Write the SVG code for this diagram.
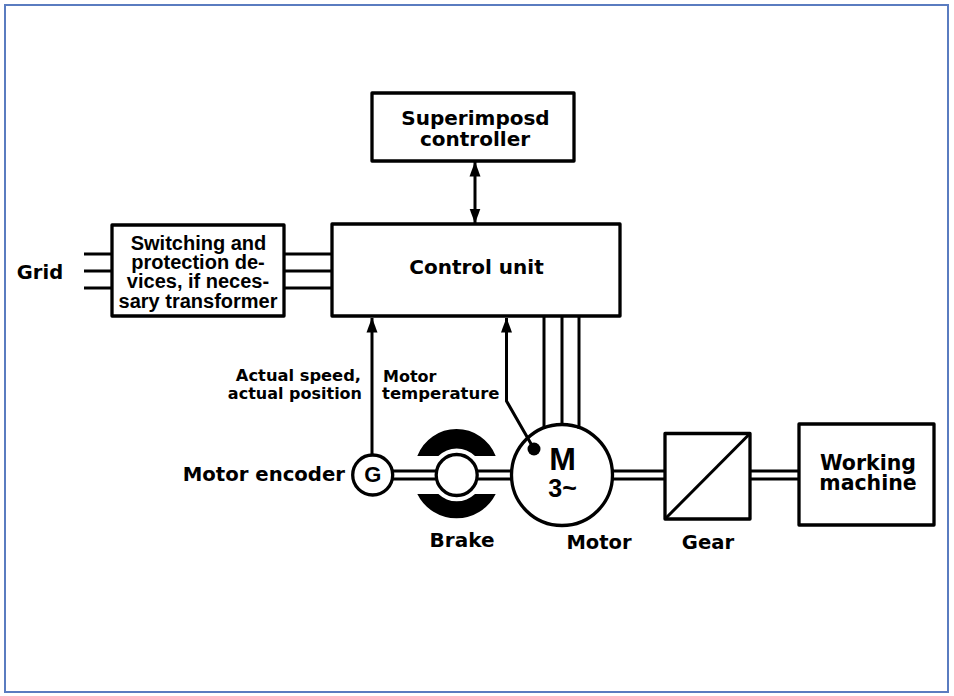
<svg xmlns="http://www.w3.org/2000/svg" width="954" height="696" viewBox="0 0 954 696">
<style>
.b{fill:#fff;stroke:#000;stroke-width:3.300;stroke-linejoin:round}
.l{fill:none;stroke:#000;stroke-width:3}
.t{font-family:"DejaVu Sans",sans-serif;font-weight:700;fill:#000;text-anchor:middle}
.s{text-anchor:start}
.e{text-anchor:end}
.a{font-family:"Liberation Sans",Arial,sans-serif;font-weight:700;fill:#000;text-anchor:middle}
</style>
<defs>
<marker id="ah" markerUnits="userSpaceOnUse" markerWidth="15" markerHeight="12" refX="14.500" refY="6" orient="auto-start-reverse"><path d="M0 0.500L15 6L0 11.500Z" fill="#000"/></marker>
</defs>
<rect x="0" y="0" width="954" height="696" fill="#fff"/>
<rect id="frame" x="5" y="5" width="943" height="687" fill="#fff" stroke="#5a7cc0" stroke-width="2"/>
<g id="superimposed"><rect class="b" x="372" y="93" width="202" height="68"/><text class="t" x="475.500" y="125" font-size="20">Superimposd</text><text class="t" x="475" y="146" font-size="20">controller</text></g>
<g id="switching"><rect class="b" x="112" y="225" width="172" height="91"/>
<text class="a" x="198.500" y="250" font-size="20">Switching and</text><text class="a" x="198" y="269" font-size="20">protection de-</text><text class="a" x="198" y="288" font-size="20">vices, if neces-</text><text class="a" x="198" y="308" font-size="20">sary transformer</text></g>
<g id="grid"><text class="t" x="40" y="279" font-size="19.500">Grid</text></g>
<g id="control"><rect class="b" x="332" y="224" width="288" height="92"/><text class="t" x="476.500" y="274" font-size="20">Control unit</text></g>
<g id="speed-label"><text class="t e" x="361" y="381" font-size="16.300">Actual speed,</text><text class="t e" x="362" y="399" font-size="16">actual position</text></g>
<g id="temp-label"><text class="t s" x="383" y="382" font-size="16">Motor</text><text class="t s" x="382" y="399" font-size="16.500">temperature</text></g>
<g id="encoder"><circle class="b" cx="372.700" cy="475" r="20"/><text class="a" x="372.700" y="482" font-size="22">G</text><text class="t e" x="345" y="481" font-size="19.700">Motor encoder</text></g>
<g id="brake">
<path d="M417.300 456A42 42 0 0 1 495.700 456H475A26 26 0 0 0 438.400 456Z" fill="#000"/>
<path d="M417.300 494A43.800 43.800 0 0 0 495.700 494H475A26.700 26.700 0 0 1 438.400 494Z" fill="#000"/>
<circle class="b" cx="456.700" cy="475" r="20.500"/>
<text class="t" x="462" y="547" font-size="20">Brake</text></g>
<g id="motor"><circle class="b" cx="562" cy="475" r="50.500"/>
<circle cx="534" cy="449" r="6.500" fill="#000"/>
<text class="a" x="562.700" y="470" font-size="32">M</text><text class="a" x="562.500" y="497" font-size="25">3~</text>
<text class="t" x="599" y="549" font-size="19.500">Motor</text></g>
<g id="gear"><rect class="b" x="665" y="433.500" width="85" height="85.500"/><path class="l" d="M665 519L750 433.500"/><text class="t" x="708" y="549" font-size="19.600">Gear</text></g>
<g id="working"><rect class="b" x="799" y="424" width="135" height="101"/><text class="t" x="868" y="470" font-size="20.500">Working</text><text class="t" x="868" y="490" font-size="20.500">machine</text></g>
<g id="connectors">
<path class="l" d="M475 162V223" marker-start="url(#ah)" marker-end="url(#ah)"/>
<path class="l" d="M84 254H112M84 271H112M84 288H112M284 254H332M284 271H332M284 288H332"/>
<path class="l" d="M372 455V318" marker-end="url(#ah)"/>
<path class="l" d="M534 449L506.500 401V318" marker-end="url(#ah)"/>
<path class="l" d="M544 316V429M562 316V424M579 316V429"/>
<path class="l" d="M392 471H437M392 479H437M476 471H512M476 479H512M612 471H665M612 479H665M750 471H799M750 479H799"/>
</g>
</svg>
